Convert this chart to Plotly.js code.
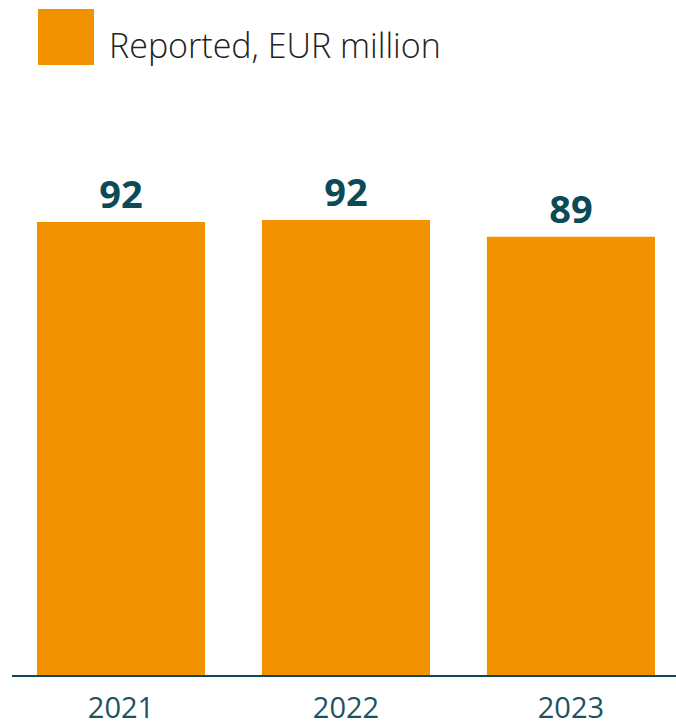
<!DOCTYPE html>
<html>
<head>
<meta charset="utf-8">
<script src="https://cdn.plot.ly/plotly-3.0.1.min.js"></script>
<style>html,body{margin:0;padding:0;background:#fff;}#chart{width:676px;height:728px;}</style>
</head>
<body>
<div id="chart"></div>
<script>
// Data
const years = ["2021", "2022", "2023"];
const reported = [92.0, 92.4, 89.0];
const valueLabels = ["92", "92", "89"];
const seriesName = "Reported, EUR million";

const W = 676, H = 728;
const M = {l: 12, r: 0, t: 100, b: 53};
const plotW = W - M.l - M.r, plotH = H - M.t - M.b;
const px2x = p => (p - M.l) / plotW;
const px2y = p => (H - M.b - p) / plotH;

const orange = "#F39200";
const teal = "#0B4A56";

const trace = {
  type: "bar",
  x: years,
  y: reported,
  name: seriesName,
  marker: {color: orange},
  text: valueLabels,
  textposition: "outside",
  cliponaxis: false,
  textfont: {family: "Open Sans", size: 38, color: teal, weight: 700},
  hoverinfo: "skip"
};

const layout = {
  width: W, height: H,
  margin: M,
  paper_bgcolor: "#fff", plot_bgcolor: "#fff",
  showlegend: false,
  bargap: 0.253,
  xaxis: {
    type: "category",
    range: [-0.4844, 2.467],
    showline: true, linecolor: teal, linewidth: 2,
    showgrid: false, zeroline: false,
    ticks: "outside", ticklen: 6, tickcolor: "rgba(0,0,0,0)",
    tickfont: {family: "Liberation Sans Narrow, Open Sans", size: 29, color: "#1C5360"}
  },
  yaxis: {
    range: [0, plotH / 4.925],
    visible: false, showgrid: false, zeroline: false
  },
  shapes: [{
    type: "rect", xref: "paper", yref: "paper",
    x0: px2x(38), x1: px2x(94), y0: px2y(65), y1: px2y(9),
    fillcolor: orange, line: {width: 0}
  }],
  annotations: [{
    xref: "paper", yref: "paper",
    x: px2x(107), y: px2y(45),
    xanchor: "left", yanchor: "middle",
    text: seriesName, showarrow: false,
    font: {family: "Open Sans", size: 34, color: "#222222", weight: 300}
  }]
};

Plotly.newPlot("chart", [trace], layout, {displayModeBar: false, staticPlot: true});
</script>
</body>
</html>
